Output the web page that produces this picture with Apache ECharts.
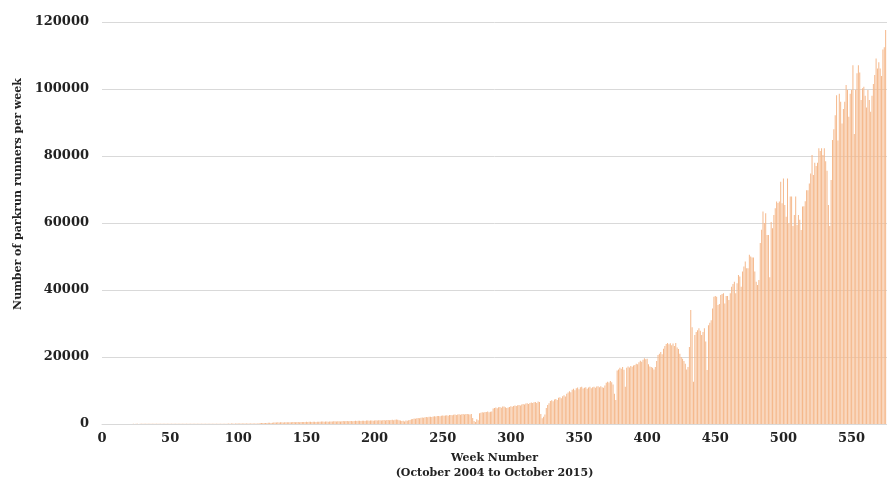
<!DOCTYPE html>
<html>
<head>
<meta charset="utf-8">
<script src="https://cdn.jsdelivr.net/npm/echarts@6/dist/echarts.min.js"></script>
<style>
  html, body { margin: 0; padding: 0; background: #fff; }
  #chart { width: 887px; height: 479px; }
</style>
</head>
<body>
<div id="chart"></div>
<script>
// weekly parkrun runner counts (week 1 = Oct 2004)
const runners2004to2006 = [
  13, 15, 18, 16, 20, 22, 19, 24, 26, 23, 27, 29, 25, 30, 32, 28, 33, 34, 30, 35, 37, 33, 38, 36, 40,
  41, 37, 42, 44, 40, 45, 43, 47, 48, 44, 50, 51, 47, 52, 50, 54, 55, 51, 57, 58, 53, 59, 61, 56, 62,
  63, 59, 64, 66, 61, 68, 69, 64, 70, 72, 66, 74, 75, 69, 77, 78, 72, 80, 82, 75, 83, 85, 78, 86, 88,
  81, 90, 92, 84, 94, 96, 88, 98, 100, 92, 102, 104, 95, 106, 108, 99, 110, 112, 103, 115, 118, 108, 121, 124, 113
]
const runners2006to2008 = [
  128, 132, 120, 136, 140, 128, 145, 150, 136, 156, 162, 146, 170, 180, 162, 300, 310, 285, 320, 330, 300, 340, 350, 322, 360,
  476, 440, 485, 494, 455, 502, 512, 470, 520, 530, 488, 540, 550, 505, 560, 570, 525, 580, 592, 545, 602, 614, 566, 625, 636,
  588, 648, 660, 610, 672, 684, 632, 696, 708, 655, 720, 732, 678, 745, 758, 702, 770, 782, 725, 795, 808, 750, 820, 834, 775,
  848, 862, 800, 875, 890, 826, 905, 918, 852, 932, 946, 878, 960, 975, 905, 990, 1005, 932, 1020, 1035, 960, 1050, 1066, 990, 1082
]
const runners2008to2010 = [
  1098, 1020, 1115, 1130, 1050, 1148, 1165, 1080, 1182, 1200, 1110, 1218, 1236, 1145, 1260,
  1380, 1290, 1150, 1020, 880, 960, 720, 1050, 990, 1100, 1180, 1420, 1500, 1650, 1580, 1720, 1800, 1750, 1880, 1950, 1860, 2020, 2080, 1990, 2150,
  2180, 2100, 2250, 2300, 2220, 2380, 2420, 2350, 2480, 2520, 2440, 2560, 2600, 2500, 2650, 2700, 2620, 2760, 2800, 2700, 2850, 2880, 2790, 2900, 2950,
  2860, 2980, 3000, 2900, 2850, 2950, 1800, 900, 600, 1400, 1100, 3200, 3350, 3500, 3420, 3600, 3550, 3700, 3500, 3650, 3750, 4600, 4800, 4950, 4700
]
const runners2010to2012 = [
  5000, 5100, 4850, 5200, 5250, 5000, 4800, 4900, 5100, 5300, 5150, 5400, 5500, 5350, 5600, 5700, 5500, 5800, 6000, 5850, 6100, 6200, 6000, 6300, 6400,
  6250, 6500, 6600, 6300, 6700, 6550, 3000, 1700, 2200, 2800, 4800, 5700, 6200, 6900, 7100, 6800, 7300, 7500, 7200, 7800, 8000, 7700, 8300, 8600, 8200,
  9000, 9400, 9800, 9500, 10200, 10500, 10100, 10700, 10900, 10400, 11000, 11100, 10600, 10800, 11000, 10500, 10900, 11100, 10700, 11000, 11100, 10800, 11200, 11300, 11000,
  11300, 11000, 10800, 11500, 12300, 12600, 12400, 12800, 12500, 11800, 9000, 7200, 16000, 16300, 16800, 16500, 17000, 16200, 11100, 16800, 17200, 16900, 17300, 17100, 17500
]
const runners2012to2014 = [
  17600, 18000, 17800, 18400, 18900, 18600, 19200, 19600, 19300, 19500, 17800, 17200, 17000, 16800, 16300, 17000, 18800, 20600, 21000, 21500, 20800, 22500, 23300, 23900, 24200,
  23800, 24100, 23500, 24000, 23300, 24200, 22800, 22400, 21000, 20000, 19500, 18800, 18000, 16300, 17000, 23000, 34000, 28900, 12600, 26600, 27500, 28000, 28600, 27800, 26600,
  27500, 28600, 24600, 16100, 29500, 30200, 31000, 34500, 38000, 38200, 38000, 35500, 35800, 38500, 38800, 39000, 36000, 38200, 38200, 37000, 39000, 41000, 41800, 42500, 39000,
  42000, 44500, 44000, 41000, 45500, 47000, 48500, 46500, 46500, 50500, 50000, 49700, 49700, 45500, 42500, 41500, 43000, 54000, 58000, 63400, 60000, 62900, 56400, 56400, 43800
]
const runners2014to2015 = [
  60300, 58400, 62400, 64400, 66400, 66000, 66400, 72300, 65900, 73300, 65400, 61900, 73300, 59900, 67900, 67900, 59100, 62400,
  67900, 59400, 62400, 61000, 57900, 64900, 65000, 66500, 69800, 69800, 71800, 74800,
  80300, 74300, 78000, 77000, 78000, 82300, 81500, 82300, 80300, 82300, 78400, 75600,
  65400, 59100, 72800, 84800, 88000, 92200, 98100, 84600, 98600, 96200, 89700, 94000,
  96200, 101200, 99700, 91700, 98600, 99700, 107100, 86600, 99700, 104700, 107100, 104900,
  96700, 100200, 100700, 98000, 94500, 99700, 96700, 93200, 98000, 101500, 104200, 109100,
  106100, 108000, 106100, 103900, 111800, 112500, 117600
]

const yTicks = [0, 20000, 40000, 60000, 80000, 100000, 120000]
const xTickStep = 50
const xMax = 576

const runners = [].concat(
  runners2004to2006, runners2006to2008, runners2008to2010,
  runners2010to2012, runners2012to2014, runners2014to2015
)
const barData = runners.map((v, i) => [i + 1, v])

const FONT = '"DejaVu Serif", serif'
const chart = echarts.init(document.getElementById('chart'))

chart.setOption({
  animation: false,
  backgroundColor: '#fff',
  // fixed plot box, labels and axis names sit outside it
  grid: { left: 102, right: 0, top: 22, bottom: 55, outerBoundsMode: 'none', containLabel: false },
  xAxis: {
    type: 'value',
    min: 0,
    max: xMax,
    interval: xTickStep,
    name: 'Week Number\n(October 2004 to October 2015)',
    nameLocation: 'middle',
    nameGap: 27,
    nameTextStyle: { fontFamily: FONT, fontWeight: 'bold', fontSize: 11, color: '#222', lineHeight: 15 },
    axisLine: { show: true, lineStyle: { color: '#d9d9d9', width: 1 } },
    axisTick: { show: false },
    splitLine: { show: false },
    axisLabel: {
      showMaxLabel: false,
      margin: 8,
      formatter: v => String(v),
      fontFamily: FONT, fontWeight: 'bold', fontSize: 13, color: '#222'
    }
  },
  yAxis: {
    type: 'value',
    min: yTicks[0],
    max: yTicks[yTicks.length - 1],
    interval: yTicks[1] - yTicks[0],
    axisLine: { show: false },
    axisTick: { show: false },
    splitLine: { lineStyle: { color: '#d9d9d9', width: 1 } },
    axisLabel: {
      margin: 13,
      formatter: v => String(v),
      fontFamily: FONT, fontWeight: 'bold', fontSize: 13, color: '#222'
    }
  },
  graphic: [{
    type: 'text',
    x: 18,
    y: 194,
    rotation: Math.PI / 2,
    style: {
      text: 'Number of parkrun runners per week',
      fontFamily: FONT, fontWeight: 'bold', fontSize: 11, fill: '#222',
      textAlign: 'center', textVerticalAlign: 'middle'
    }
  }],
  series: [{
    type: 'bar',
    data: barData,
    barWidth: 1,
    itemStyle: { color: '#f5b88b' }
  }]
})
</script>
</body>
</html>
